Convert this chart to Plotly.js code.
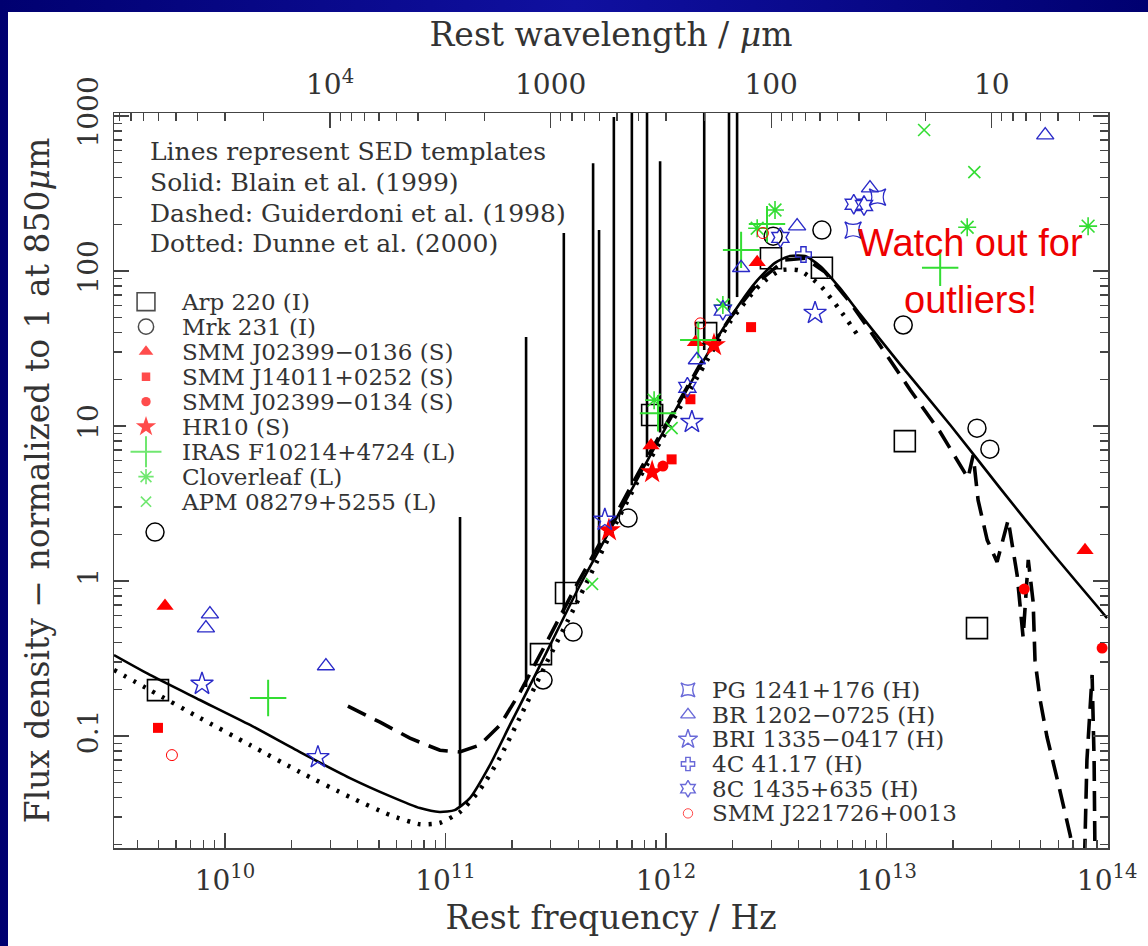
<!DOCTYPE html>
<html>
<head>
<meta charset="utf-8">
<script src="https://cdn.plot.ly/plotly-3.0.1.min.js"></script>
<style>
  html, body { margin:0; padding:0; width:1148px; height:946px; overflow:hidden;
    background: linear-gradient(90deg, #000070 0%, #1010a0 50%, #000070 100%); }
  #chart { position:absolute; left:8px; top:12px; width:1140px; height:934px; background:#fff; }
</style>
</head>
<body>
<div id="chart"></div>
<script>
// ---------------- DATA ----------------
// SED templates (rest frequency in Hz, flux normalised to 1 at 850 um)
const blainFreq = [3.14e9, 4.57e9, 7.7e9, 1.30e10, 2.19e10, 3.69e10, 5.6e10, 7.66e10, 9.4e10, 1.10e11, 1.29e11, 1.59e11, 1.96e11, 2.42e11, 2.98e11, 4.07e11, 5.57e11, 7.62e11, 1.04e12, 1.43e12, 1.95e12, 2.53e12, 3.12e12, 3.65e12, 4.27e12, 4.99e12, 6.15e12, 7.58e12, 1.15e13, 1.94e13, 3.27e13, 5.51e13, 1.0e14];
const blainFlux = [0.333, 0.248, 0.171, 0.118, 0.0788, 0.0536, 0.041, 0.0343, 0.0324, 0.0333, 0.0398, 0.065, 0.118, 0.213, 0.386, 0.94, 2.13, 4.9, 10.9, 24.4, 49.8, 83.7, 113, 125, 125, 108, 77.6, 52.8, 25.1, 10.2, 3.98, 1.58, 0.577];

const dunneFreq = [3.14e9, 4.57e9, 7.7e9, 1.30e10, 2.19e10, 3.69e10, 5.6e10, 7.66e10, 9.4e10, 1.16e11, 1.43e11, 1.76e11, 2.17e11, 2.84e11, 3.89e11, 5.57e11, 7.62e11, 1.04e12, 1.43e12, 1.95e12, 2.66e12, 3.3e12, 4.02e12, 4.99e12, 6.15e12, 7.4e12];
const dunneFlux = [0.267, 0.198, 0.131, 0.0875, 0.0586, 0.0404, 0.031, 0.027, 0.0275, 0.0323, 0.0449, 0.0721, 0.131, 0.287, 0.70, 1.98, 4.69, 10.1, 22.3, 46.9, 81.2, 101, 101, 81, 56, 38.6];

const guiderdoniFreq = [3.61e10, 5.05e10, 6.9e10, 9.44e10, 1.16e11, 1.43e11, 1.77e11, 2.18e11, 2.83e11, 3.86e11, 5.57e11, 7.62e11, 1.04e12, 1.43e12, 1.95e12, 2.67e12, 3.47e12, 4.27e12, 5.26e12, 6.83e12, 9.33e12, 1.28e13, 1.75e13, 2.15e13, 2.34e13, 2.47e13, 2.6e13, 2.86e13, 3.17e13, 3.56e13, 3.91e13, 4.16e13, 4.39e13, 4.62e13, 4.71e13, 4.97e13, 5.34e13, 6.0e13, 6.8e13, 7.38e13, 7.86e13, 8.1e13, 8.55e13, 8.73e13, 8.83e13];
const guiderdoniFlux = [0.156, 0.123, 0.097, 0.081, 0.079, 0.0875, 0.118, 0.192, 0.386, 0.90, 2.3, 5.2, 11.3, 25.1, 49.8, 87.5, 118, 121, 98.6, 63, 33.3, 17.1, 9.15, 5.6, 4.62, 6.5, 3.33, 1.84, 1.33, 2.48, 1.09, 0.435, 1.37, 0.732, 0.309, 0.171, 0.0986, 0.0497, 0.023, 0.0118, 0.0118, 0.07, 0.248, 0.07, 0.0118];

// emission-line spikes of the Guiderdoni template
const spikeFreq = [1.164e11, 2.32e11, 3.44e11, 4.67e11, 4.97e11, 5.8e11, 7.0e11, 8.2e11, 9.4e11, 1.49e12, 1.93e12, 2.10e12];
const spikeLow  = [0.035, 0.207, 0.612, 1.39, 1.63, 2.51, 4.16, 6.3, 9.1, 31, 56, 68];
const spikeHigh = [2.59, 37.5, 176, 497, 184, 986, 3000, 3000, 512, 3000, 3000, 3000];

// Observed galaxies
const arp220Freq = [4.97e9, 2.71e11, 3.52e11, 8.65e11, 1.52e12, 2.99e12, 5.09e12, 1.21e13, 2.57e13];
const arp220Flux = [0.198, 0.338, 0.837, 11.8, 39.8, 121, 105, 8.0, 0.497];
const mrk231Freq = [4.82e9, 2.77e11, 3.79e11, 6.73e11, 3.06e12, 5.09e12, 1.19e13, 2.57e13, 2.94e13];
const mrk231Flux = [2.07, 0.23, 0.469, 2.55, 168, 184, 44.9, 9.7, 7.1];
const smm0136Freq = [5.35e9, 8.55e11, 1.36e12, 2.59e12, 7.94e13];
const smm0136Flux = [0.69, 7.5, 34.8, 114, 1.58];
const smm14011Freq = [4.97e9, 1.06e12, 1.29e12, 2.43e12];
const smm14011Flux = [0.113, 6.1, 14.9, 43.5];
const smm0134Freq = [9.68e11, 4.21e13, 9.49e13];
const smm0134Flux = [5.52, 0.888, 0.37];
const hr10Freq = [5.51e11, 8.65e11, 1.65e12];
const hr10Flux = [2.13, 5.05, 33.3];
const irasFreq = [1.57e10, 9.2e11, 1.40e12, 2.19e12, 2.87e12, 1.75e13];
const irasFlux = [0.176, 12.1, 35.9, 137, 201, 105];
const cloverFreq = [8.83e11, 1.81e12, 2.59e12, 3.12e12, 2.32e13, 8.2e13];
const cloverFlux = [14.7, 60.4, 189, 248, 192, 195];
const apmFreq = [4.62e11, 1.06e12, 1.48e13, 2.5e13];
const apmFlux = [0.957, 9.7, 813, 435];
const pgFreq = [7.05e12, 9.1e12];
const pgFlux = [184, 300];
const br1202Freq = [8.2e9, 8.55e9, 2.87e10, 1.38e12, 2.19e12, 3.93e12, 8.41e12, 5.24e13];
const br1202Flux = [0.497, 0.612, 0.283, 26.7, 105, 195, 343, 754];
const bri1335Freq = [7.87e9, 2.64e10, 5.28e11, 1.31e12, 4.74e12];
const bri1335Flux = [0.217, 0.073, 2.48, 10.6, 53.6];
const c4Freq = [4.2e12];
const c4Flux = [128];
const c8Freq = [1.25e12, 1.81e12, 3.3e12, 7.1e12, 7.9e12];
const c8Flux = [17.8, 56, 165, 270, 265];
const smm221726Freq = [5.75e9, 1.43e12, 2.75e12];
const smm221726Flux = [0.0754, 46, 176];

// Legend labels and header text
const legendNamesA = ['Arp 220 (I)', 'Mrk 231 (I)', 'SMM J02399\u22120136 (S)', 'SMM J14011+0252 (S)', 'SMM J02399\u22120134 (S)', 'HR10 (S)', 'IRAS F10214+4724 (L)', 'Cloverleaf (L)', 'APM 08279+5255 (L)'];
const legendNamesB = ['PG 1241+176 (H)', 'BR 1202\u22120725 (H)', 'BRI 1335\u22120417 (H)', '4C 41.17 (H)', '8C 1435+635 (H)', 'SMM J221726+0013'];
const headerLines = ['Lines represent SED templates', 'Solid: Blain et al. (1999)', 'Dashed: Guiderdoni et al. (1998)', 'Dotted: Dunne et al. (2000)'];
const calloutLines = ['Watch out for', 'outliers!'];

// Axis tick labels
const freqTickVals = [1e10, 1e11, 1e12, 1e13, 1e14];
const freqTickText = ['10<sup>10</sup>', '10<sup>11</sup>', '10<sup>12</sup>', '10<sup>13</sup>', '10<sup>14</sup>'];
const waveTickVals = [1e4, 1000, 100, 10];
const waveTickText = ['10<sup>4</sup>', '1000', '100', '10'];
const fluxTickVals = [0.1, 1, 10, 100, 1000];
const fluxTickText = ['0.1', '1', '10', '100', '1000'];

// ---------------- STYLES ----------------
const RED = '#ff0000', GREEN = '#33dd33', BLUE = '#2a2ac8', BLACK = '#000000';
const series = [
  {name: legendNamesA[0], x: arp220Freq, y: arp220Flux, sym: 'square-open', size: 21, color: BLACK, lw: 1.6, g: 'A'},
  {name: legendNamesA[1], x: mrk231Freq, y: mrk231Flux, sym: 'circle-open', size: 18, color: BLACK, lw: 1.5, g: 'A'},
  {name: legendNamesA[2], x: smm0136Freq, y: smm0136Flux, sym: 'triangle-up', size: 15, color: RED, lw: 0, g: 'A'},
  {name: legendNamesA[3], x: smm14011Freq, y: smm14011Flux, sym: 'square', size: 10, color: RED, lw: 0, g: 'A'},
  {name: legendNamesA[4], x: smm0134Freq, y: smm0134Flux, sym: 'circle', size: 11, color: RED, lw: 0, g: 'A'},
  {name: legendNamesA[5], x: hr10Freq, y: hr10Flux, sym: 'star', size: 18, color: RED, lw: 0, g: 'A'},
  {name: legendNamesA[6], x: irasFreq, y: irasFlux, sym: 'cross-thin-open', size: 26, color: GREEN, lw: 2, g: 'A'},
  {name: legendNamesA[7], x: cloverFreq, y: cloverFlux, sym: 'asterisk-open', size: 15, color: GREEN, lw: 1.6, g: 'A'},
  {name: legendNamesA[8], x: apmFreq, y: apmFlux, sym: 'x-thin-open', size: 12, color: GREEN, lw: 1.6, g: 'A'},
  {name: legendNamesB[0], x: pgFreq, y: pgFlux, sym: 'star-square-open', size: 15, color: BLUE, lw: 1.4, g: 'B'},
  {name: legendNamesB[1], x: br1202Freq, y: br1202Flux, sym: 'triangle-up-open', size: 15, color: BLUE, lw: 1.4, g: 'B'},
  {name: legendNamesB[2], x: bri1335Freq, y: bri1335Flux, sym: 'star-open', size: 17, color: BLUE, lw: 1.4, g: 'B'},
  {name: legendNamesB[3], x: c4Freq, y: c4Flux, sym: 'cross-open', size: 13, color: BLUE, lw: 1.4, g: 'B'},
  {name: legendNamesB[4], x: c8Freq, y: c8Flux, sym: 'hexagram-open', size: 15, color: BLUE, lw: 1.4, g: 'B'},
  {name: legendNamesB[5], x: smm221726Freq, y: smm221726Flux, sym: 'circle-open', size: 11, color: RED, lw: 1, g: 'B'}
];

const C_UM = 2.998e14; // speed of light in micron/s

// ---------------- TRACES ----------------
const traces = [];
traces.push({x: blainFreq, y: blainFlux, mode: 'lines', line: {color: BLACK, width: 2.6, shape: 'spline', smoothing: 0.6}, hoverinfo: 'skip', name: 'Blain et al. (1999)'});
traces.push({x: dunneFreq, y: dunneFlux, mode: 'lines', line: {color: BLACK, width: 4.5, dash: '3px,8px', shape: 'spline', smoothing: 0.6}, hoverinfo: 'skip', name: 'Dunne et al. (2000)'});
traces.push({x: guiderdoniFreq, y: guiderdoniFlux, mode: 'lines', line: {color: BLACK, width: 3.6, dash: '20px,10px'}, hoverinfo: 'skip', name: 'Guiderdoni et al. (1998)'});
const sx = [], sy = [];
spikeFreq.forEach((f, i) => { sx.push(f, f, null); sy.push(spikeLow[i], spikeHigh[i], null); });
traces.push({x: sx, y: sy, mode: 'lines', line: {color: BLACK, width: 2.6}, hoverinfo: 'skip', name: 'lines'});
// same template on the wavelength axis (invisible) so the top axis is drawn
traces.push({x: blainFreq.map(f => C_UM / f), y: blainFlux, xaxis: 'x2', yaxis: 'y', mode: 'lines',
  line: {color: 'rgba(0,0,0,0)', width: 0}, hoverinfo: 'skip', name: 'wavelength'});

series.forEach(s => {
  traces.push({x: s.x, y: s.y, mode: 'markers', name: s.name, xaxis: 'x', yaxis: 'y',
    marker: {symbol: s.sym, size: s.size, color: s.color, line: {color: s.color, width: s.lw}}});
});

// key subplots (legend symbols + names)
['A', 'B'].forEach((g, k) => {
  const ss = series.filter(s => s.g === g);
  traces.push({
    x: ss.map(() => 0), y: ss.map(s => s.name), mode: 'markers',
    xaxis: k === 0 ? 'x3' : 'x4', yaxis: k === 0 ? 'y3' : 'y4', hoverinfo: 'skip',
    marker: {symbol: ss.map(s => s.sym), size: ss.map(s => s.size * 0.85), color: ss.map(s => s.color),
             line: {color: ss.map(s => s.color), width: ss.map(s => s.lw)}}
  });
});

// ---------------- LAYOUT ----------------
function minorTicks(lo, hi) {
  const out = [];
  for (let e = Math.floor(Math.log10(lo)); e <= Math.ceil(Math.log10(hi)); e++) {
    for (let m = 2; m <= 9; m++) { const v = m * Math.pow(10, e); if (v > lo && v < hi) out.push(v); }
  }
  return out;
}
const xr = [9.497, 14.004];
const yr = [-1.722, 3.02];
const AX = '#444';
const tickFont = {family: 'DejaVu Serif', size: 28, color: '#333'};
const titleFont = {family: 'DejaVu Serif', size: 33, color: '#333'};
const keyFont = {family: 'DejaVu Serif', size: 23, color: '#333'};

// page-pixel helpers for text placement (plot area: x 106..1100, y 101..836 inside the chart div)
const px = x => (x - 8 - 106) / 994;
const py = y => (836 - (y - 12)) / 735;

const annotations = [];
const headerY = [152, 182, 213, 244];
headerLines.forEach((t, i) => annotations.push({
  xref: 'paper', yref: 'paper', x: px(148), y: py(headerY[i]), xanchor: 'left', yanchor: 'middle', showarrow: false,
  text: t, font: {family: 'DejaVu Serif', size: 25, color: '#333'}}));
const calloutY = [243, 300];
calloutLines.forEach((t, i) => annotations.push({
  xref: 'paper', yref: 'paper', x: px(970), y: py(calloutY[i]), xanchor: 'center', yanchor: 'middle', showarrow: false,
  text: t, font: {family: '"Liberation Sans", Arial, sans-serif', size: 38, color: '#ee0000'}}));

const layout = {
  width: 1140, height: 934,
  margin: {l: 106, r: 40, t: 101, b: 98},
  paper_bgcolor: '#ffffff', plot_bgcolor: '#ffffff',
  showlegend: false,
  font: {family: 'DejaVu Serif', color: '#333'},
  xaxis: {
    type: 'log', range: xr, showgrid: false, zeroline: false,
    showline: true, linecolor: AX, linewidth: 1.5, mirror: false,
    ticks: 'inside', ticklen: 15, tickwidth: 1.3, tickcolor: AX, ticklabelstandoff: 7,
    tickmode: 'array', tickvals: freqTickVals, ticktext: freqTickText, tickfont: tickFont,
    minor: {tickmode: 'array', tickvals: minorTicks(Math.pow(10, xr[0]), Math.pow(10, xr[1])), ticks: 'inside', ticklen: 8, tickwidth: 1.3, tickcolor: AX},
    title: {text: 'Rest frequency / Hz', font: titleFont, standoff: 10}
  },
  xaxis2: {
    type: 'log', overlaying: 'x', side: 'top', anchor: 'y',
    range: [Math.log10(C_UM) - xr[0], Math.log10(C_UM) - xr[1]],
    showgrid: false, zeroline: false, showline: true, linecolor: AX, linewidth: 1.5,
    ticks: 'inside', ticklen: 15, tickwidth: 1.3, tickcolor: AX, ticklabelstandoff: 6,
    tickmode: 'array', tickvals: waveTickVals, ticktext: waveTickText, tickfont: tickFont,
    minor: {tickmode: 'array', tickvals: minorTicks(C_UM / Math.pow(10, xr[1]), C_UM / Math.pow(10, xr[0])), ticks: 'inside', ticklen: 8, tickwidth: 1.3, tickcolor: AX},
    title: {text: 'Rest wavelength / <i>\u03bc</i>m', font: titleFont, standoff: 8}
  },
  yaxis: {
    type: 'log', range: yr, showgrid: false, zeroline: false,
    showline: true, linecolor: AX, linewidth: 1.5, mirror: 'ticks',
    ticks: 'inside', ticklen: 15, tickwidth: 1.3, tickcolor: AX, ticklabelstandoff: 3,
    tickmode: 'array', tickvals: fluxTickVals, ticktext: fluxTickText, tickfont: tickFont, tickangle: -90,
    minor: {tickmode: 'array', tickvals: minorTicks(Math.pow(10, yr[0]), Math.pow(10, yr[1])), ticks: 'inside', ticklen: 8, tickwidth: 1.3, tickcolor: AX},
    title: {text: 'Flux density \u2212 normalized to 1 at 850<i>\u03bc</i>m', font: titleFont, standoff: 12}
  },
  xaxis3: {domain: [0.0121, 0.0523], range: [-1, 1], visible: false, fixedrange: true, anchor: 'y3'},
  yaxis3: {domain: [0.4542, 0.7603], anchor: 'x3', type: 'category', range: [8.5, -0.5], side: 'right',
           tickmode: 'array', tickvals: legendNamesA, ticktext: legendNamesA,
           showline: false, showgrid: false, zeroline: false, ticks: '', ticklabelstandoff: 15,
           tickfont: keyFont, fixedrange: true},
  xaxis4: {domain: [0.5573, 0.5976], range: [-1, 1], visible: false, fixedrange: true, anchor: 'y4'},
  yaxis4: {domain: [0.0303, 0.2318], anchor: 'x4', type: 'category', range: [5.5, -0.5], side: 'right',
           tickmode: 'array', tickvals: legendNamesB, ticktext: legendNamesB,
           showline: false, showgrid: false, zeroline: false, ticks: '', ticklabelstandoff: 3,
           tickfont: keyFont, fixedrange: true},
  annotations: annotations
};

Plotly.newPlot('chart', traces, layout, {displayModeBar: false, staticPlot: true});
</script>
</body>
</html>
